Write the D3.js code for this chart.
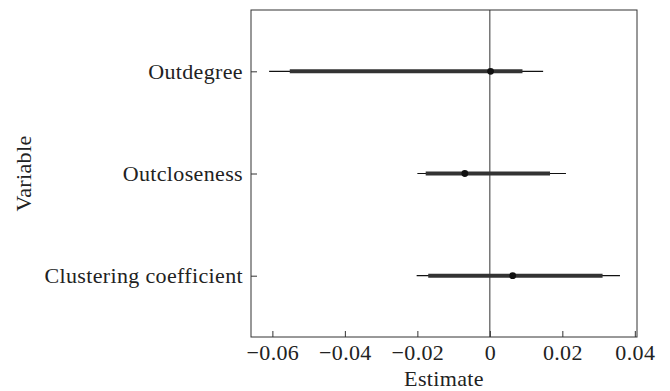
<!DOCTYPE html>
<html>
<head>
<meta charset="utf-8">
<script src="https://cdn.jsdelivr.net/npm/d3@7"></script>
<style>
  html, body { margin: 0; padding: 0; background: #fff; }
  svg text { font-family: "Liberation Serif", serif; fill: #222; letter-spacing: 0.35px; }
</style>
</head>
<body>
<svg id="chart" width="670" height="391"></svg>
<script>
const variables = ["Outdegree", "Outcloseness", "Clustering coefficient"];
const estimates = [0.0002, -0.0069, 0.0063];
const innerLower = [-0.0552, -0.0177, -0.0170];
const innerUpper = [0.0090, 0.0166, 0.0311];
const outerLower = [-0.0609, -0.0200, -0.0202];
const outerUpper = [0.0147, 0.0210, 0.0359];
const xTicks = [-0.06, -0.04, -0.02, 0, 0.02, 0.04];
const xDomain = [-0.0659, 0.0406];

const rows = variables.map((v, i) => ({
  name: v, est: estimates[i],
  lo1: innerLower[i], hi1: innerUpper[i],
  lo2: outerLower[i], hi2: outerUpper[i]
}));

const FONT = "Liberation Serif";
const FS = 22;
const svg = d3.select("#chart");
const mLeft = 251, mRight = 637, mTop = 10, mBottom = 337;

const x = d3.scaleLinear().domain(xDomain).range([mLeft, mRight]);
const y = d3.scalePoint().domain(variables).range([mTop, mBottom]).padding(0.6);

const fmt = d => d === 0 ? "0" : d3.format(".2f")(d);

// x axis
const gx = svg.append("g").attr("transform", `translate(0,${mBottom})`)
  .call(d3.axisBottom(x).tickValues(xTicks).tickFormat(fmt)
    .tickSizeInner(-6).tickSizeOuter(0).tickPadding(7));
gx.select(".domain").remove();
gx.selectAll(".tick line").attr("stroke", "#333");
gx.selectAll(".tick text").attr("font-size", FS).attr("font-family", FONT).attr("fill", "#222");

// y axis
const gy = svg.append("g").attr("transform", `translate(${mLeft},0)`)
  .call(d3.axisLeft(y).tickSizeInner(-6).tickSizeOuter(0).tickPadding(8));
gy.select(".domain").remove();
gy.selectAll(".tick line").attr("stroke", "#333");
gy.selectAll(".tick text").attr("font-size", FS).attr("font-family", FONT).attr("fill", "#222");

// frame
svg.append("rect").attr("x", mLeft).attr("y", mTop)
  .attr("width", mRight - mLeft).attr("height", mBottom - mTop)
  .attr("fill", "none").attr("stroke", "#333").attr("stroke-width", 1);

// zero line
svg.append("line").attr("x1", x(0)).attr("x2", x(0))
  .attr("y1", mTop).attr("y2", mBottom).attr("stroke", "#333").attr("stroke-width", 1);

// outer intervals
svg.append("g").selectAll("line").data(rows).join("line")
  .attr("x1", d => x(d.lo2)).attr("x2", d => x(d.hi2))
  .attr("y1", d => y(d.name)).attr("y2", d => y(d.name))
  .attr("stroke", "#111").attr("stroke-width", 1.2);

// inner intervals
svg.append("g").selectAll("line").data(rows).join("line")
  .attr("x1", d => x(d.lo1)).attr("x2", d => x(d.hi1))
  .attr("y1", d => y(d.name)).attr("y2", d => y(d.name))
  .attr("stroke", "#333").attr("stroke-width", 4);

// points
svg.append("g").selectAll("circle").data(rows).join("circle")
  .attr("cx", d => x(d.est)).attr("cy", d => y(d.name)).attr("r", 3.4)
  .attr("fill", "#111");

// axis titles
svg.append("text").attr("x", (mLeft + mRight) / 2).attr("y", 386)
  .attr("text-anchor", "middle").attr("font-size", FS).attr("font-family", FONT).text("Estimate");
svg.append("text").attr("transform", `translate(31,${(mTop + mBottom) / 2}) rotate(-90)`)
  .attr("text-anchor", "middle").attr("font-size", FS).attr("font-family", FONT).text("Variable");
</script>
</body>
</html>
